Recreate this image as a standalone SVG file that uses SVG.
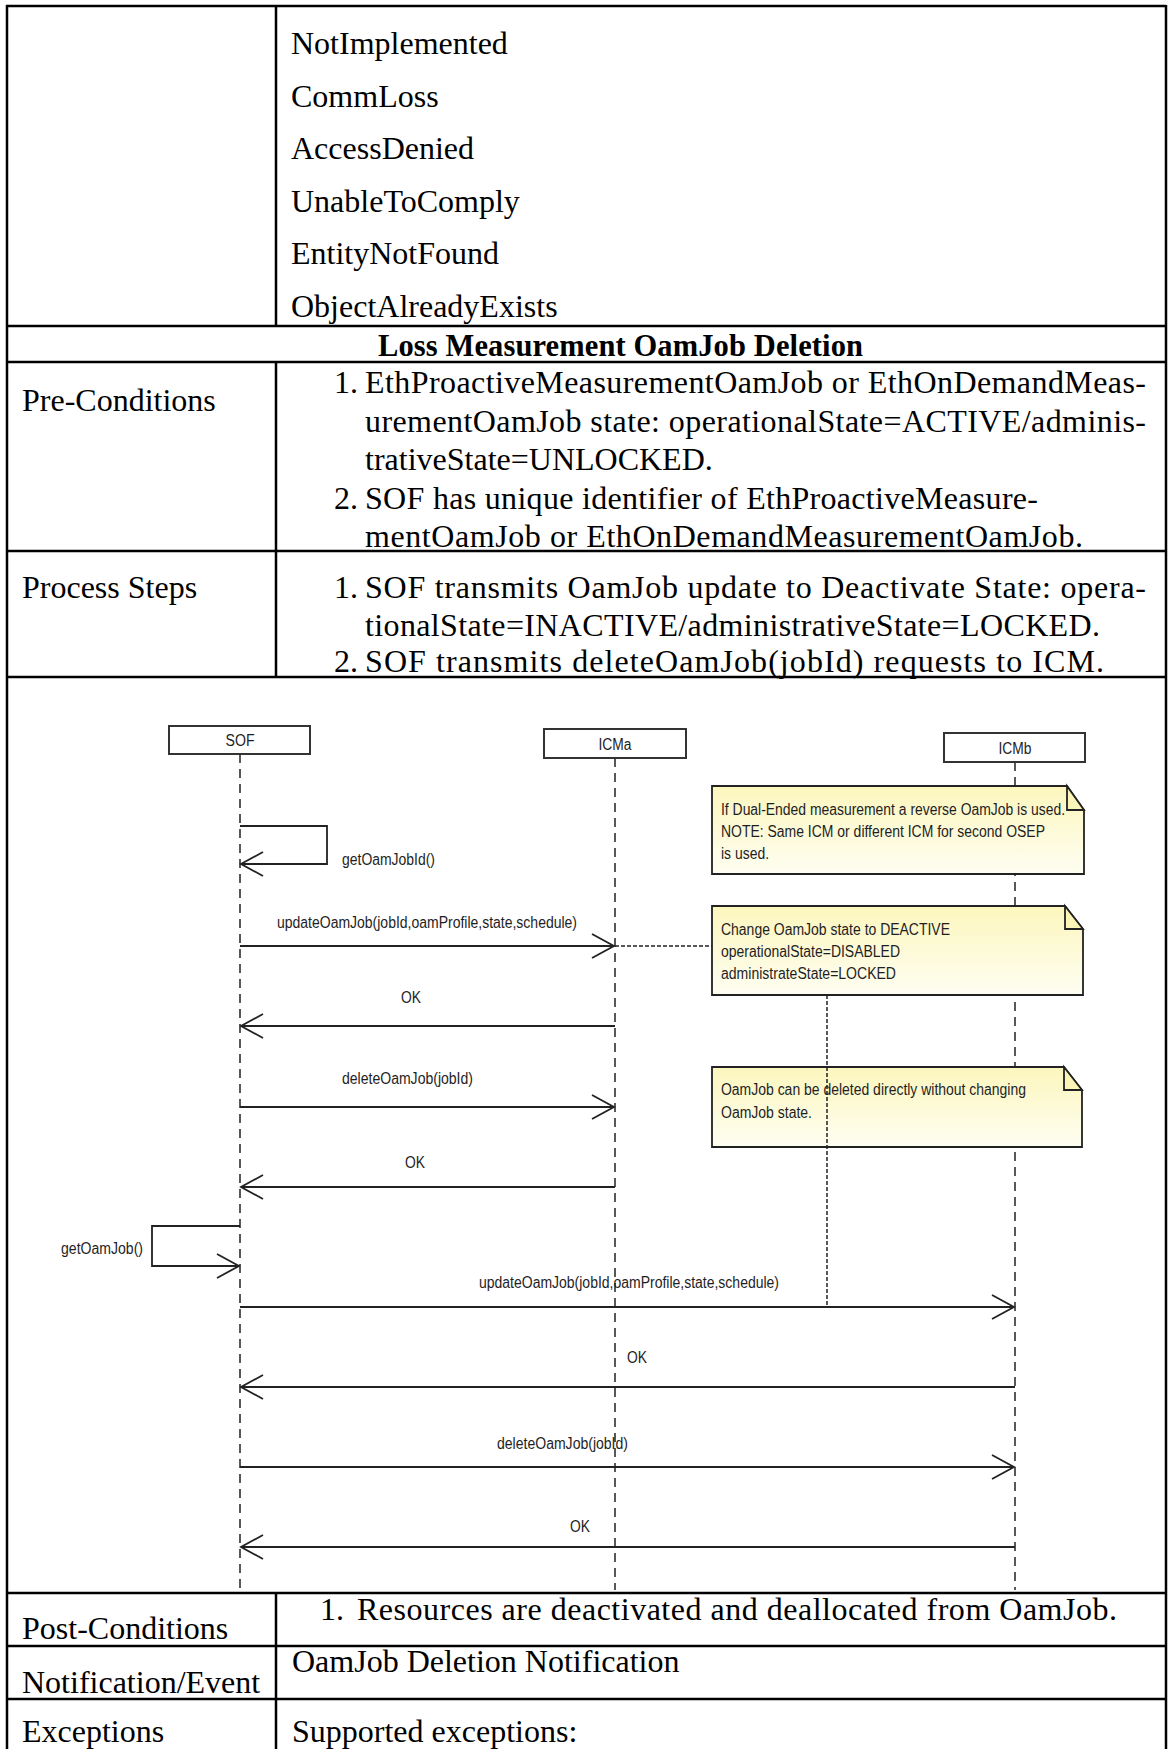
<svg xmlns="http://www.w3.org/2000/svg" width="1169" height="1749" viewBox="0 0 1169 1749">
<style>
.t{font-family:"Liberation Serif","Times New Roman",serif;font-size:32px;fill:#000}
.tt{font-family:"Liberation Serif","Times New Roman",serif;font-size:30.5px;font-weight:bold;fill:#000}
.d{font-family:"Liberation Sans",Arial,sans-serif;font-size:16px;fill:#1e1e24}
.dc{font-family:"Liberation Sans",Arial,sans-serif;font-size:16px;fill:#1e1e24;text-anchor:middle}
.tb{stroke:#000;stroke-width:2.5;fill:none}
.box{fill:#fff;stroke:#333;stroke-width:2}
.life{stroke:#222;stroke-width:1.5;stroke-dasharray:9 6;fill:none}
.msg{stroke:#222;stroke-width:1.8;fill:none}
.anc{stroke:#222;stroke-width:1.5;stroke-dasharray:4 2;fill:none}
.note{fill:url(#ng);stroke:#222;stroke-width:1.8}
.ear{fill:#fbf5b8;stroke:#222;stroke-width:1.8;stroke-linejoin:miter}
</style>
<defs>
<linearGradient id="ng" x1="0" y1="0" x2="0" y2="1">
<stop offset="0" stop-color="#fcf6bd"/>
<stop offset="1" stop-color="#fefef2"/>
</linearGradient>
<marker id="ah" markerUnits="userSpaceOnUse" markerWidth="26" markerHeight="28" refX="23" refY="13" orient="auto">
<path d="M1,1 L23,13 L1,25" fill="none" stroke="#222" stroke-width="1.8"/>
</marker>
</defs>
<rect width="1169" height="1749" fill="#fff"/>

<g id="table">
<line class="tb" x1="6" y1="6" x2="1166" y2="6"/>
<line class="tb" x1="7" y1="5" x2="7" y2="1749"/>
<line class="tb" x1="1166" y1="5" x2="1166" y2="1749"/>
<line class="tb" x1="276" y1="6" x2="276" y2="326"/>
<line class="tb" x1="6" y1="326" x2="1166" y2="326"/>
<line class="tb" x1="6" y1="362" x2="1166" y2="362"/>
<line class="tb" x1="276" y1="362" x2="276" y2="677"/>
<line class="tb" x1="6" y1="551" x2="1166" y2="551"/>
<line class="tb" x1="6" y1="677" x2="1166" y2="677"/>
<line class="tb" x1="6" y1="1593" x2="1166" y2="1593"/>
<line class="tb" x1="276" y1="1593" x2="276" y2="1749"/>
<line class="tb" x1="6" y1="1646" x2="1166" y2="1646"/>
<line class="tb" x1="6" y1="1699" x2="1166" y2="1699"/>
</g>

<g id="exceptions-list">
<text class="t" x="291" y="54">NotImplemented</text>
<text class="t" x="291" y="106.5">CommLoss</text>
<text class="t" x="291" y="159">AccessDenied</text>
<text class="t" x="291" y="211.5">UnableToComply</text>
<text class="t" x="291" y="264">EntityNotFound</text>
<text class="t" x="291" y="316.5">ObjectAlreadyExists</text>
</g>

<g id="title">
<text class="tt" x="378" y="356" textLength="485">Loss Measurement OamJob Deletion</text>
</g>

<g id="pre-conditions">
<text class="t" x="22" y="411">Pre-Conditions</text>
<text class="t" x="334" y="393">1.</text>
<text class="t" x="365" y="393" textLength="781">EthProactiveMeasurementOamJob or EthOnDemandMeas-</text>
<text class="t" x="365" y="431.5" textLength="781">urementOamJob state: operationalState=ACTIVE/adminis-</text>
<text class="t" x="365" y="470">trativeState=UNLOCKED.</text>
<text class="t" x="334" y="508.5">2.</text>
<text class="t" x="365" y="508.5" textLength="673">SOF has unique identifier of EthProactiveMeasure-</text>
<text class="t" x="365" y="547" textLength="718">mentOamJob or EthOnDemandMeasurementOamJob.</text>
</g>

<g id="process-steps">
<text class="t" x="22" y="598">Process Steps</text>
<text class="t" x="334" y="598">1.</text>
<text class="t" x="365" y="598" textLength="781">SOF transmits OamJob update to Deactivate State: opera-</text>
<text class="t" x="365" y="636" textLength="735">tionalState=INACTIVE/administrativeState=LOCKED.</text>
<text class="t" x="334" y="672">2.</text>
<text class="t" x="365" y="672" textLength="739">SOF transmits deleteOamJob(jobId) requests to ICM.</text>
</g>

<g id="post-conditions">
<text class="t" x="22" y="1639">Post-Conditions</text>
<text class="t" x="320" y="1620">1.</text>
<text class="t" x="357" y="1620" textLength="760">Resources are deactivated and deallocated from OamJob.</text>
</g>

<g id="notification">
<text class="t" x="22" y="1693">Notification/Event</text>
<text class="t" x="292" y="1672">OamJob Deletion Notification</text>
</g>

<g id="exceptions">
<text class="t" x="22" y="1742">Exceptions</text>
<text class="t" x="292" y="1742">Supported exceptions:</text>
</g>

<g id="lifeline-SOF">
<line class="life" x1="240" y1="754" x2="240" y2="1590"/>
<rect class="box" x="169" y="726" width="141" height="28"/>
<text class="dc" x="240" y="746" textLength="29" lengthAdjust="spacingAndGlyphs">SOF</text>
</g>
<g id="lifeline-ICMa">
<line class="life" x1="615" y1="758" x2="615" y2="1590"/>
<rect class="box" x="544" y="729" width="142" height="29"/>
<text class="dc" x="615" y="750" textLength="33" lengthAdjust="spacingAndGlyphs">ICMa</text>
</g>
<g id="lifeline-ICMb">
<line class="life" x1="1015" y1="762" x2="1015" y2="1590"/>
<rect class="box" x="944" y="733" width="141" height="29"/>
<text class="dc" x="1015" y="754" textLength="33" lengthAdjust="spacingAndGlyphs">ICMb</text>
</g>

<g id="connectors">
<path class="msg" d="M240,826 H327 V864 H241" marker-end="url(#ah)"/>
<path class="msg" d="M240,946 H614" marker-end="url(#ah)"/>
<path class="msg" d="M615,1026 H241" marker-end="url(#ah)"/>
<path class="msg" d="M240,1107 H614" marker-end="url(#ah)"/>
<path class="msg" d="M615,1187 H241" marker-end="url(#ah)"/>
<path class="msg" d="M240,1226 H152 V1266 H239" marker-end="url(#ah)"/>
<path class="msg" d="M240,1307 H1014" marker-end="url(#ah)"/>
<path class="msg" d="M1015,1387 H241" marker-end="url(#ah)"/>
<path class="msg" d="M240,1467 H1014" marker-end="url(#ah)"/>
<path class="msg" d="M1015,1547 H241" marker-end="url(#ah)"/>
<path class="anc" d="M615,946 H712"/>
<text class="d" x="342" y="865" textLength="93" lengthAdjust="spacingAndGlyphs">getOamJobId()</text>
<text class="d" x="277" y="928" textLength="300" lengthAdjust="spacingAndGlyphs">updateOamJob(jobId,oamProfile,state,schedule)</text>
<text class="d" x="401" y="1003" textLength="20" lengthAdjust="spacingAndGlyphs">OK</text>
<text class="d" x="342" y="1084" textLength="131" lengthAdjust="spacingAndGlyphs">deleteOamJob(jobId)</text>
<text class="d" x="405" y="1168" textLength="20" lengthAdjust="spacingAndGlyphs">OK</text>
<text class="d" x="61" y="1254" textLength="82" lengthAdjust="spacingAndGlyphs">getOamJob()</text>
<text class="d" x="479" y="1288" textLength="300" lengthAdjust="spacingAndGlyphs">updateOamJob(jobId,oamProfile,state,schedule)</text>
<text class="d" x="627" y="1363" textLength="20" lengthAdjust="spacingAndGlyphs">OK</text>
<text class="d" x="497" y="1449" textLength="131" lengthAdjust="spacingAndGlyphs">deleteOamJob(jobId)</text>
<text class="d" x="570" y="1532" textLength="20" lengthAdjust="spacingAndGlyphs">OK</text>
</g>

<g id="note-dual-ended">
<path class="note" d="M712,786 H1067 L1084,810 V874 H712 Z"/>
<path class="ear" d="M1067,786 V810 H1084 Z"/>
<text class="d" x="721" y="815" textLength="344" lengthAdjust="spacingAndGlyphs">If Dual-Ended measurement a reverse OamJob is used.</text>
<text class="d" x="721" y="837" textLength="324" lengthAdjust="spacingAndGlyphs">NOTE: Same ICM or different ICM for second OSEP</text>
<text class="d" x="721" y="859" textLength="48" lengthAdjust="spacingAndGlyphs">is used.</text>
</g>
<g id="note-deactive">
<path class="note" d="M712,906 H1065 L1083,929 V995 H712 Z"/>
<path class="ear" d="M1065,906 V929 H1083 Z"/>
<text class="d" x="721" y="935" textLength="229" lengthAdjust="spacingAndGlyphs">Change OamJob state to DEACTIVE</text>
<text class="d" x="721" y="957" textLength="179" lengthAdjust="spacingAndGlyphs">operationalState=DISABLED</text>
<text class="d" x="721" y="979" textLength="175" lengthAdjust="spacingAndGlyphs">administrateState=LOCKED</text>
</g>
<g id="note-delete-direct">
<path class="note" d="M712,1067 H1064 L1082,1090 V1147 H712 Z"/>
<path class="ear" d="M1064,1067 V1090 H1082 Z"/>
<text class="d" x="721" y="1095" textLength="305" lengthAdjust="spacingAndGlyphs">OamJob can be deleted directly without changing</text>
<text class="d" x="721" y="1118" textLength="91" lengthAdjust="spacingAndGlyphs">OamJob state.</text>
</g>
<g id="note-anchor">
<path class="anc" d="M827,995 V1307"/>
</g>
</svg>
